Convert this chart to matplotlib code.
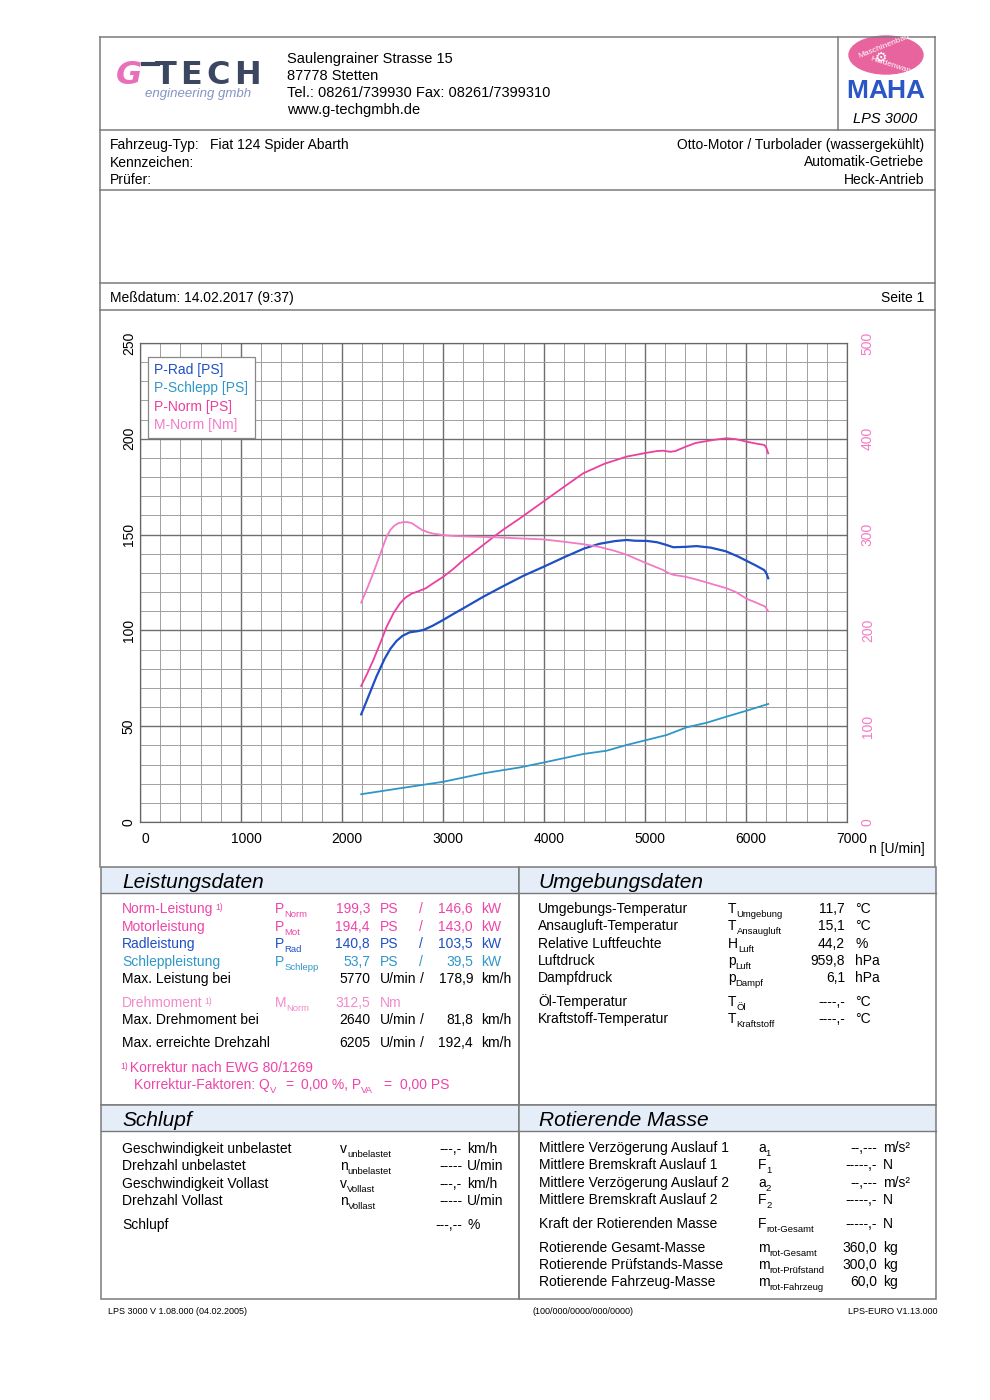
import matplotlib
matplotlib.use('Agg')
from matplotlib import pyplot as plt
from matplotlib.patches import Rectangle, Ellipse
from matplotlib.lines import Line2D
from matplotlib.transforms import ScaledTranslation

plt.rcParams['font.family'] = ['Liberation Sans', 'DejaVu Sans']

# --- curves (rpm / PS, torque in Nm) ---
rpm_rad = [2190, 2250, 2340, 2420, 2480, 2540, 2600, 2670, 2750, 2810, 2900, 3000, 3100,
           3200, 3400, 3600, 3800, 4000, 4200, 4400, 4550, 4700, 4820, 4900, 5020, 5120,
           5200, 5280, 5400, 5510, 5650, 5800, 5920, 6010, 6100, 6180, 6200, 6220]
p_rad = [56.2, 64.0, 75.8, 85.0, 90.5, 94.5, 97.2, 99.0, 99.6, 100.3, 102.5, 105.4, 108.5,
         111.5, 117.6, 123.2, 128.6, 133.3, 138.2, 142.8, 145.2, 146.6, 147.2, 146.8, 146.7, 146.0,
         144.8, 143.4, 143.6, 144.0, 143.2, 141.3, 138.6, 136.2, 133.8, 131.5, 130.0, 127.2]

rpm_schlepp = [2190, 2574, 3003, 3399, 3762, 3993, 4389, 4620, 4818, 5016, 5214, 5412,
               5610, 5808, 6006, 6220]
p_schlepp = [14.5, 17.6, 21.0, 25.4, 28.5, 31.0, 35.5, 37.2, 40.2, 42.8, 45.4, 49.4,
             51.8, 55.0, 58.1, 61.6]

rpm_norm = [2190, 2250, 2310, 2380, 2442, 2510, 2574, 2630, 2690, 2760, 2830, 2900, 3003,
            3100, 3201, 3300, 3399, 3500, 3600, 3762, 3993, 4200, 4389, 4600, 4818, 5016,
            5120, 5181, 5250, 5300, 5400, 5500, 5676, 5808, 5900, 6006, 6100, 6180, 6200, 6220]
p_norm = [71.0, 77.5, 84.5, 93.5, 101.9, 109.0, 114.1, 117.2, 119.2, 120.5, 122.0, 124.5, 128.0,
          132.0, 136.7, 140.6, 144.6, 148.8, 152.7, 158.5, 167.2, 175.0, 182.0, 187.0, 190.7, 192.7,
          193.6, 193.8, 193.2, 193.6, 195.8, 197.8, 199.4, 200.3, 199.8, 198.5, 197.5, 196.8, 195.5, 192.4]

rpm_mnorm = [2190, 2250, 2310, 2380, 2442, 2480, 2520, 2560, 2607, 2650, 2690, 2740, 2789,
             2850, 2904, 3000, 3102, 3250, 3399, 3564, 3762, 3993, 4200, 4389, 4554, 4700,
             4818, 5016, 5181, 5230, 5280, 5400, 5478, 5580, 5676, 5808, 5900, 6006, 6100, 6188, 6220]
m_norm = [229, 244, 260, 280, 298, 305, 309.5, 312, 313, 313, 312, 308.5, 305,
          302.5, 301, 299.5, 298.6, 298, 297.6, 297, 296, 295, 292.5, 290, 287, 283,
          279, 270, 263, 260, 258, 256, 254, 251, 248, 244, 240, 233, 229, 225, 220]

rpm_ticks = [0, 1000, 2000, 3000, 4000, 5000, 6000, 7000]
ps_ticks = [0, 50, 100, 150, 200, 250]
nm_ticks = [0, 100, 200, 300, 400, 500]
legend_labels = ['P-Rad [PS]', 'P-Schlepp [PS]', 'P-Norm [PS]', 'M-Norm [Nm]']

C_RAD = '#1f4fc4'
C_SCH = '#2f97c7'
C_NORM = '#ec3f9f'
C_MNORM = '#f27ac6'
C_LINE = '#7a7a7a'
C_BAND = '#e5edf8'

fig = plt.figure(figsize=(9.9, 14), dpi=100)
page = fig.add_axes([0, 0, 1, 1])
page.set_xlim(0, 990)
page.set_ylim(1400, 0)
page.axis('off')
renderer = fig.canvas.get_renderer()


def hline(y, x0=100, x1=935):
    page.plot([x0, x1], [y, y], color=C_LINE, lw=1.1)


def vline(x, y0, y1):
    page.plot([x, x], [y0, y1], color=C_LINE, lw=1.1)


def rich(x, y, parts, color='black', size=10):
    # draws text with subscripts, y is the middle of the capitals
    cur = x
    for txt, kind in parts:
        if kind == 'sub':
            t = page.text(cur, y + 9, txt, fontsize=size * 0.68, color=color, va='baseline')
        elif kind == 'small':
            t = page.text(cur + 2, y + 2, txt, fontsize=size * 0.62, color=color, va='baseline')
        else:
            t = page.text(cur, y + 5, txt, fontsize=size, color=color, va='baseline')
        cur += t.get_window_extent(renderer).width
    return cur


def txt(x, y, s, color='black', size=10, ha='left', **kw):
    page.text(x, y + 5, s, fontsize=size, color=color, ha=ha, va='baseline', **kw)


# ---------------- page frame ----------------
hline(37)
vline(100, 37, 867)
vline(935, 37, 867)
hline(130)
hline(190)
hline(283)
hline(310)
vline(838, 37, 130)

# G-Tech logo
page.text(116, 75, 'G', fontsize=23, color='#e870b8', fontweight='bold', style='italic',
          va='center', family='DejaVu Sans')
page.plot([143, 158], [64, 64], color='#3b4660', lw=3)
for ch, x in zip('TECH', [155, 180, 206, 234]):
    page.text(x, 75, ch, fontsize=23, color='#3b4660', fontweight='bold', va='center',
              family='DejaVu Sans')
page.text(145, 94, 'engineering gmbh', fontsize=9.5, color='#8393c4', style='italic', va='center')

# address
for i, line in enumerate(['Saulengrainer Strasse 15', '87778 Stetten',
                          'Tel.: 08261/739930 Fax: 08261/7399310', 'www.g-techgmbh.de']):
    txt(287, 58 + i * 17, line, size=10.5)

# MAHA logo
page.add_patch(Ellipse((886, 55), 74, 38, color='#e8649e'))
page.text(884, 46, 'Maschinenbau', fontsize=6, color='white', rotation=22, ha='center', va='center')
page.text(893, 66, 'Haldenwang', fontsize=6, color='white', rotation=-18, ha='center', va='center')
page.text(881, 58, '\u2699', fontsize=10, color='white', ha='center', va='center', family='DejaVu Sans')
for ch, x in zip('MAHA', [846, 868, 886, 905]):
    page.text(x, 91, ch, fontsize=19, color='#2a56c6', fontweight='bold', va='center')
page.text(885, 119, 'LPS 3000', fontsize=10.5, style='italic', ha='center', va='center')

# vehicle info
txt(110, 144, 'Fahrzeug-Typ:')
txt(210, 144, 'Fiat 124 Spider Abarth')
txt(110, 162, 'Kennzeichen:')
txt(110, 179, 'Prüfer:')
txt(924, 144, 'Otto-Motor / Turbolader (wassergekühlt)', ha='right')
txt(924, 161, 'Automatik-Getriebe', ha='right')
txt(924, 179, 'Heck-Antrieb', ha='right')

txt(110, 297, 'Meßdatum: 14.02.2017 (9:37)')
txt(924, 297, 'Seite 1', ha='right')

# ---------------- chart ----------------
ax = fig.add_axes([140 / 990, (1400 - 822) / 1400, 707 / 990, 479 / 1400])
ax.set_xlim(0, 7000)
ax.set_ylim(0, 250)
ax.set_xticks(rpm_ticks)
ax.set_xticks(range(0, 7001, 200), minor=True)
ax.set_yticks(ps_ticks)
ax.set_yticks(range(0, 251, 10), minor=True)
ax.set_axisbelow(True)
ax.grid(which='major', color='#6e6e6e', lw=1.0)
ax.grid(which='minor', color='#a0a0a0', lw=0.7)
ax.tick_params(which='both', length=0)
ax.tick_params(axis='x', pad=7, labelsize=10)
ax.tick_params(axis='y', pad=3, labelsize=10, labelrotation=90)
for lbl in ax.get_yticklabels():
    lbl.set_va('center')
off = ScaledTranslation(0.05, 0, fig.dpi_scale_trans)
for lbl in ax.get_xticklabels():
    lbl.set_transform(lbl.get_transform() + off)

ax.plot(rpm_schlepp, p_schlepp, color=C_SCH, lw=1.3)
ax.plot(rpm_rad, p_rad, color=C_RAD, lw=1.6)
ax.plot(rpm_norm, p_norm, color=C_NORM, lw=1.3)

ax2 = ax.twinx()
ax2.set_ylim(0, 500)
ax2.set_yticks(nm_ticks)
ax2.tick_params(length=0, pad=10, labelsize=10, labelrotation=90, labelcolor=C_MNORM)
for lbl in ax2.get_yticklabels():
    lbl.set_va('center')
ax2.plot(rpm_mnorm, m_norm, color=C_MNORM, lw=1.3)

for a in (ax, ax2):
    for sp in a.spines.values():
        sp.set_color('#666666')

handles = [Line2D([], [], color='none') for _ in legend_labels]
leg = ax2.legend(handles, legend_labels, loc='upper left',
                 bbox_to_anchor=(8 / 707, (822 - 357) / 479), borderaxespad=0,
                 handlelength=0, handletextpad=0, fancybox=False, edgecolor='#888888',
                 fontsize=10, labelspacing=0.3, borderpad=0.45, framealpha=1)
leg.get_frame().set_linewidth(0.9)
for t, c in zip(leg.get_texts(), [C_RAD, C_SCH, C_NORM, C_MNORM]):
    t.set_color(c)

txt(925, 848, 'n [U/min]', ha='right')

# ---------------- data boxes ----------------
for x0, y0, h in [(101, 867, 238), (519, 867, 238), (101, 1105, 194), (519, 1105, 194)]:
    w = 418 if x0 == 101 else 417
    page.add_patch(Rectangle((x0, y0), w, 26, facecolor=C_BAND, edgecolor='none'))
    page.add_patch(Rectangle((x0, y0), w, h, facecolor='none', edgecolor=C_LINE, lw=1.1))
    page.plot([x0, x0 + w], [y0 + 26, y0 + 26], color=C_LINE, lw=1.0)

for x, y, s in [(122, 882, 'Leistungsdaten'), (538, 882, 'Umgebungsdaten'),
                (122, 1121, 'Schlupf'), (539, 1121, 'Rotierende Masse')]:
    page.text(x, y, s, fontsize=15, style='italic', va='center')

# Leistungsdaten
C_PINK = '#ee44a8'
C_LPINK = '#f28acb'
power_rows = [('Norm-Leistung', 'Norm', '199,3', '146,6', C_PINK),
              ('Motorleistung', 'Mot', '194,4', '143,0', C_PINK),
              ('Radleistung', 'Rad', '140,8', '103,5', C_RAD),
              ('Schleppleistung', 'Schlepp', '53,7', '39,5', C_SCH)]
for i, (lab, sub, ps, kw, c) in enumerate(power_rows):
    y = 908 + i * 17.6
    end = rich(122, y, [(lab, '')], color=c)
    if i == 0:
        rich(end, y, [('1)', 'small')], color=c)
    rich(275, y, [('P', ''), (sub, 'sub')], color=c)
    txt(370, y, ps, c, ha='right')
    txt(380, y, 'PS', c)
    txt(421, y, '/', c, ha='center')
    txt(473, y, kw, c, ha='right')
    txt(481, y, 'kW', c)

speed_rows = [('Max. Leistung bei', 978, '5770', '178,9'),
              ('Max. Drehmoment bei', 1019, '2640', '81,8'),
              ('Max. erreichte Drehzahl', 1042, '6205', '192,4')]
for lab, y, n, v in speed_rows:
    txt(122, y, lab)
    txt(370, y, n, ha='right')
    txt(380, y, 'U/min')
    txt(422, y, '/', ha='center')
    txt(473, y, v, ha='right')
    txt(481, y, 'km/h')

end = rich(122, 1002, [('Drehmoment', '')], color=C_LPINK)
rich(end, 1002, [('1)', 'small')], color=C_LPINK)
rich(275, 1002, [('M', ''), ('Norm', 'sub')], color=C_LPINK)
txt(370, 1002, '312,5', C_LPINK, ha='right')
txt(380, 1002, 'Nm', C_LPINK)

rich(118, 1067, [('1)', 'small'), (' Korrektur nach EWG 80/1269', '')], color=C_PINK)
rich(134, 1084, [('Korrektur-Faktoren: Q', ''), ('V', 'sub')], color=C_PINK)
txt(285, 1084, '=', C_PINK)
rich(301, 1084, [('0,00 %, P', ''), ('VA', 'sub')], color=C_PINK)
txt(383, 1084, '=', C_PINK)
txt(400, 1084, '0,00 PS', C_PINK)

# Umgebungsdaten
env_rows = [('Umgebungs-Temperatur', 'T', 'Umgebung', '11,7', '°C'),
            ('Ansaugluft-Temperatur', 'T', 'Ansaugluft', '15,1', '°C'),
            ('Relative Luftfeuchte', 'H', 'Luft', '44,2', '%'),
            ('Luftdruck', 'p', 'Luft', '959,8', 'hPa'),
            ('Dampfdruck', 'p', 'Dampf', '6,1', 'hPa'),
            ('Öl-Temperatur', 'T', 'Öl', '----,-', '°C'),
            ('Kraftstoff-Temperatur', 'T', 'Kraftstoff', '----,-', '°C')]
env_y = [908, 925, 943, 960, 977, 1001, 1018]
for (lab, sym, sub, val, unit), y in zip(env_rows, env_y):
    txt(538, y, lab)
    rich(728, y, [(sym, ''), (sub, 'sub')])
    txt(845, y, val, ha='right')
    txt(855, y, unit)

# Schlupf
slip_rows = [('Geschwindigkeit unbelastet', 'v', 'unbelastet', '---,-', 'km/h'),
             ('Drehzahl unbelastet', 'n', 'unbelastet', '-----', 'U/min'),
             ('Geschwindigkeit Vollast', 'v', 'Vollast', '---,-', 'km/h'),
             ('Drehzahl Vollast', 'n', 'Vollast', '-----', 'U/min'),
             ('Schlupf', '', '', '---,--', '%')]
slip_y = [1148, 1165, 1183, 1200, 1224]
for (lab, sym, sub, val, unit), y in zip(slip_rows, slip_y):
    txt(122, y, lab)
    if sym:
        rich(340, y, [(sym, ''), (sub, 'sub')])
    txt(462, y, val, ha='right')
    txt(467, y, unit)

# Rotierende Masse
rot_rows = [('Mittlere Verzögerung Auslauf 1', 'a', '1', '--,---', 'm/s²'),
            ('Mittlere Bremskraft Auslauf 1', 'F', '1', '-----,-', 'N'),
            ('Mittlere Verzögerung Auslauf 2', 'a', '2', '--,---', 'm/s²'),
            ('Mittlere Bremskraft Auslauf 2', 'F', '2', '-----,-', 'N'),
            ('Kraft der Rotierenden Masse', 'F', 'rot-Gesamt', '-----,-', 'N'),
            ('Rotierende Gesamt-Masse', 'm', 'rot-Gesamt', '360,0', 'kg'),
            ('Rotierende Prüfstands-Masse', 'm', 'rot-Prüfstand', '300,0', 'kg'),
            ('Rotierende Fahrzeug-Masse', 'm', 'rot-Fahrzeug', '60,0', 'kg')]
rot_y = [1147, 1164, 1182, 1199, 1223, 1247, 1264, 1281]
for (lab, sym, sub, val, unit), y in zip(rot_rows, rot_y):
    txt(539, y, lab)
    rich(758, y, [(sym, ''), (sub, 'sub')])
    txt(877, y, val, ha='right')
    txt(883, y, unit)

# footer
txt(108, 1309, 'LPS 3000 V 1.08.000 (04.02.2005)', size=6.5)
txt(583, 1309, '(100/000/0000/000/0000)', size=6.5, ha='center')
txt(937, 1309, 'LPS-EURO V1.13.000', size=6.5, ha='right')

fig.savefig('out.png', dpi=100)
